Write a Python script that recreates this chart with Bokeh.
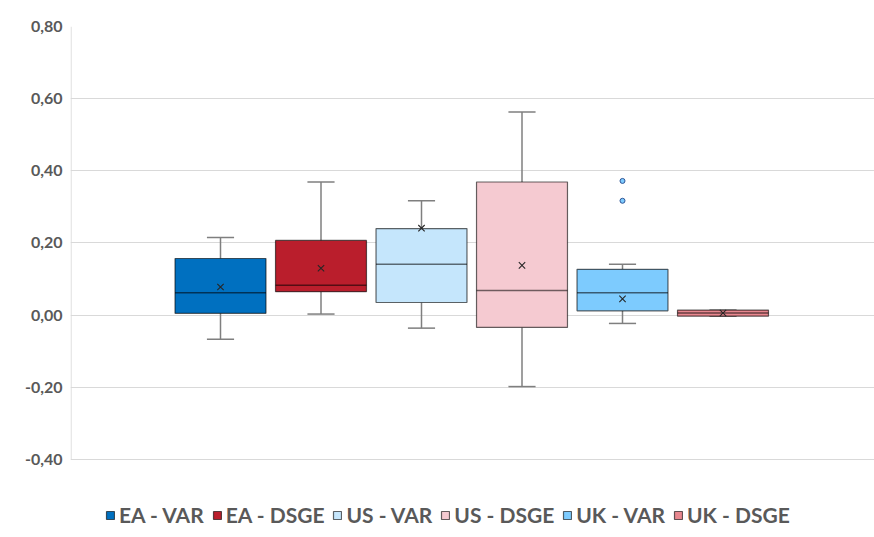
import numpy as np
from bokeh.plotting import figure
from bokeh.models import ColumnDataSource, Range1d, FixedTicker, CustomJSTickFormatter
from bokeh.embed import file_html
from bokeh.resources import INLINE

# ---- data ----
labels = ["EA - VAR", "EA - DSGE", "US - VAR", "US - DSGE", "UK - VAR", "UK - DSGE"]
colors = ["#0070C0", "#BA1E2C", "#C5E6FC", "#F5CAD1", "#7DCBFE", "#E8878F"]
q1 = [0.005, 0.065, 0.035, -0.034, 0.012, -0.003]
median = [0.062, 0.083, 0.141, 0.068, 0.062, 0.006]
q3 = [0.157, 0.207, 0.240, 0.369, 0.127, 0.014]
whisker_low = [-0.067, 0.003, -0.036, -0.198, -0.023, -0.003]
whisker_high = [0.215, 0.369, 0.317, 0.563, 0.141, 0.014]
mean = [0.078, 0.130, 0.241, 0.138, 0.045, 0.006]
outlier_series = ["UK - VAR", "UK - VAR"]
outlier_values = [0.372, 0.317]
y_ticks = [-0.4, -0.2, 0.0, 0.2, 0.4, 0.6, 0.8]

# ---- layout helpers ----
W, H = 874, 537
LEFT, TOP = 70, 26
BOX_W = 0.905
CAP_W = 0.27
pos = np.arange(len(labels)) + 1.5
x_start = 1.5 - 150 / 100.5
x_end = x_start + (W - LEFT) / 100.5
y_end = 0.8
y_start = 0.8 - (H - TOP) / 360.8

src = ColumnDataSource(dict(
    x=pos, label=labels, color=colors, q1=q1, q3=q3, median=median,
    lo=whisker_low, hi=whisker_high, mean=mean,
    xl=pos - BOX_W / 2, xr=pos + BOX_W / 2,
    cl=pos - CAP_W / 2, cr=pos + CAP_W / 2,
))
out_src = ColumnDataSource(dict(
    x=[pos[labels.index(s)] for s in outlier_series], y=outlier_values))

p = figure(width=W, height=H, x_range=Range1d(x_start, x_end),
           y_range=Range1d(y_start, y_end), output_backend="svg",
           toolbar_location=None, x_axis_location=None,
           min_border_left=LEFT, min_border_top=TOP, min_border_right=0,
           min_border_bottom=0)
p.outline_line_color = None
p.background_fill_color = "white"
p.border_fill_color = "white"

for g in p.grid:
    if g.dimension == 0:
        g.visible = False
p.ygrid.grid_line_color = "#D9D9D9"
p.ygrid.grid_line_width = 1

ax = p.yaxis[0]
ax.ticker = FixedTicker(ticks=y_ticks)
ax.formatter = CustomJSTickFormatter(code="return tick.toFixed(2).replace('.', ',');")
ax.axis_line_color = None
ax.major_tick_line_color = None
ax.minor_tick_line_color = None
ax.major_tick_in = 0
ax.major_tick_out = 0
ax.major_label_standoff = 8
ax.major_label_text_font = "Lato"
ax.major_label_text_font_style = "bold"
ax.major_label_text_font_size = "16px"
ax.major_label_text_color = "#595959"

# left plot-area border line between -0.4 and 0.8
p.segment(x0=[x_start + 0.006], y0=[y_ticks[0]], x1=[x_start + 0.006], y1=[y_ticks[-1]],
          line_color="#D9D9D9", line_width=1)

# whiskers
wcol = "#7F7F7F"
p.segment(x0="x", y0="q3", x1="x", y1="hi", source=src, line_color=wcol, line_width=1.5)
p.segment(x0="x", y0="q1", x1="x", y1="lo", source=src, line_color=wcol, line_width=1.5)
p.segment(x0="cl", y0="hi", x1="cr", y1="hi", source=src, line_color=wcol, line_width=1.5)
p.segment(x0="cl", y0="lo", x1="cr", y1="lo", source=src, line_color=wcol, line_width=1.5)

# boxes
p.vbar(x="x", width=BOX_W, bottom="q1", top="q3", source=src,
       fill_color="color", line_color="black", line_alpha=0.6, line_width=1.2,
       legend_field="label")
# medians
p.segment(x0="xl", y0="median", x1="xr", y1="median", source=src,
          line_color="black", line_alpha=0.55, line_width=1.5)
# means
p.scatter(x="x", y="mean", source=src, marker="x", size=9,
          line_color="#262626", line_width=1.1)
# outliers
p.scatter(x="x", y="y", source=out_src, marker="circle", size=5,
          fill_color="#7DCBFE", line_color="#2F5597", line_width=1)

lg = p.legend[0]
lg.orientation = "horizontal"
lg.location = (35, 10)
lg.glyph_width = 10
lg.glyph_height = 10
lg.label_standoff = 4
lg.spacing = 8
lg.padding = 0
lg.margin = 0
lg.border_line_color = None
lg.background_fill_alpha = 0
lg.label_text_font = "Lato"
lg.label_text_font_style = "bold"
lg.label_text_font_size = "21px"
lg.label_text_color = "#595959"

open("out.html", "w").write(file_html(p, INLINE))
